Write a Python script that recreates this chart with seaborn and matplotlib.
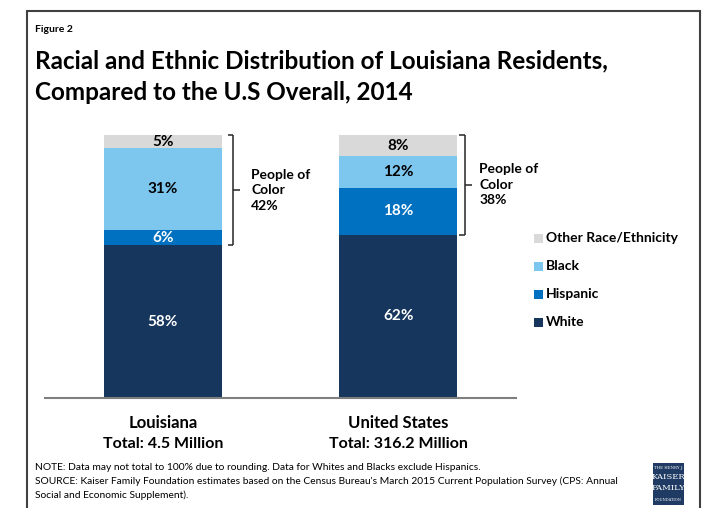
import matplotlib
matplotlib.use("Agg")
import matplotlib.pyplot as plt
from matplotlib.patches import Rectangle
from matplotlib.lines import Line2D
import seaborn as sns
import pandas as pd
import numpy as np

# Data: share of residents by race/ethnicity (percent), 2014
places = ["Louisiana", "United States"]
totals = ["Total: 4.5 Million", "Total: 316.2 Million"]
groups = ["White", "Hispanic", "Black", "Other Race/Ethnicity"]
white = [58, 62]
hispanic = [6, 18]
black = [31, 12]
other = [5, 8]
people_of_color = [42, 38]

colors = {
    "White": "#17365D",
    "Hispanic": "#0070C0",
    "Black": "#7DC6EE",
    "Other Race/Ethnicity": "#D9D9D9",
}
label_colors = {
    "White": "white",
    "Hispanic": "white",
    "Black": "black",
    "Other Race/Ethnicity": "black",
}

sns.set_theme(style="white")
FONT = ["Lato", "DejaVu Sans"]
plt.rcParams["font.family"] = FONT

W, H = 705, 508
fig = plt.figure(figsize=(W / 100, H / 100), dpi=100)

def fx(px):
    return px / W

def fy(py):
    return 1 - py / H

ax = fig.add_axes([fx(45), fy(398), fx(516) - fx(45), fy(135) - fy(398)])

series = {"White": white, "Hispanic": hispanic, "Black": black,
          "Other Race/Ethnicity": other}
bottom = np.zeros(len(places))
for g in groups:
    vals = np.array(series[g], dtype=float)
    df = pd.DataFrame({"place": places, "value": vals})
    sns.barplot(data=df, x="place", y="value", color=colors[g], width=0.5,
                bottom=bottom.copy(), saturation=1, ax=ax, linewidth=0)
    for i, v in enumerate(vals):
        ax.text(i, bottom[i] + v / 2, f"{int(v)}%", ha="center", va="center",
                fontsize=11, fontweight="bold", color=label_colors[g])
    bottom += vals

ax.set_xlim(-0.5, 1.5)
ax.set_ylim(0, 100)
ax.set_xlabel("")
ax.set_ylabel("")
ax.set_xticks([])
ax.set_yticks([])
for s in ["top", "right", "left"]:
    ax.spines[s].set_visible(False)
ax.spines["bottom"].set_color("#7f7f7f")
ax.spines["bottom"].set_linewidth(1.5)
ax.patch.set_alpha(0)

# Category labels under the bars
for i, (p, t) in enumerate(zip(places, totals)):
    ax.text(i, -9.5, p, ha="center", va="center", fontsize=12,
            fontweight="bold", color="black")
    ax.text(i, -17.5, t, ha="center", va="center", fontsize=11.5,
            fontweight="bold", color="black")

# Braces spanning the non-White segments
def brace(x0, top, bot, nub=0.03, hook=0.025):
    mid = (top + bot) / 2
    kw = dict(color="#262626", lw=1.1, clip_on=False, solid_capstyle="butt")
    ax.add_line(Line2D([x0 - hook, x0], [top, top], **kw))
    ax.add_line(Line2D([x0, x0], [top, bot], **kw))
    ax.add_line(Line2D([x0 - hook, x0], [bot, bot], **kw))
    ax.add_line(Line2D([x0, x0 + nub], [mid, mid], **kw))
    return mid

brace_x = [0.3, 1.285]
text_x = [0.375, 1.345]
for i in range(len(places)):
    top = 100
    bot = white[i]
    mid = brace(brace_x[i], top, bot)
    ax.text(text_x[i], mid, f"People of\nColor\n{people_of_color[i]}%",
            ha="left", va="center", fontsize=10, fontweight="bold",
            linespacing=1.35, color="black")

# Legend
for j, g in enumerate(reversed(groups)):
    y = 238 + 28 * j
    fig.patches.append(Rectangle((fx(534), fy(y + 4.5)), fx(9), 9 / H,
                                 transform=fig.transFigure,
                                 facecolor=colors[g], edgecolor="none"))
    fig.text(fx(546), fy(y), g, ha="left", va="center", fontsize=10,
             fontweight="bold", color="black")

# Headings
fig.text(fx(35), fy(30), "Figure 2", ha="left", va="center", fontsize=7.5,
         fontweight="bold", color="black")
fig.text(fx(35), fy(61), "Racial and Ethnic Distribution of Louisiana Residents,",
         ha="left", va="center", fontsize=17.5, fontweight="bold", color="black")
fig.text(fx(35), fy(93), "Compared to the U.S Overall, 2014",
         ha="left", va="center", fontsize=17.5, fontweight="bold", color="black")

# Notes
notes = [
    "NOTE: Data may not total to 100% due to rounding. Data for Whites and Blacks exclude Hispanics.",
    "SOURCE: Kaiser Family Foundation estimates based on the Census Bureau's March 2015 Current Population Survey (CPS: Annual",
    "Social and Economic Supplement).",
]
for k, line in enumerate(notes):
    fig.text(fx(35), fy(467 + 14 * k), line, ha="left", va="center",
             fontsize=7.4, color="black")

# Foundation mark
fig.patches.append(Rectangle((fx(653), fy(505)), fx(31), 42 / H,
                             transform=fig.transFigure,
                             facecolor="#1F3B63", edgecolor="none"))
for txt, yy, fs in [("THE HENRY J.", 468, 2.8), ("KAISER", 477, 6),
                    ("FAMILY", 488, 6), ("FOUNDATION", 500, 2.6)]:
    fig.text(fx(668.5), fy(yy), txt, ha="center", va="center", fontsize=fs,
             color="white", family=["DejaVu Serif"])

# Outer frame
fig.patches.append(Rectangle((fx(27), fy(520)), fx(700) - fx(27), (520 - 11) / H,
                             transform=fig.transFigure, facecolor="none",
                             edgecolor="#404040", lw=1.5, clip_on=False))

fig.savefig("out.png", dpi=100, facecolor="white")
